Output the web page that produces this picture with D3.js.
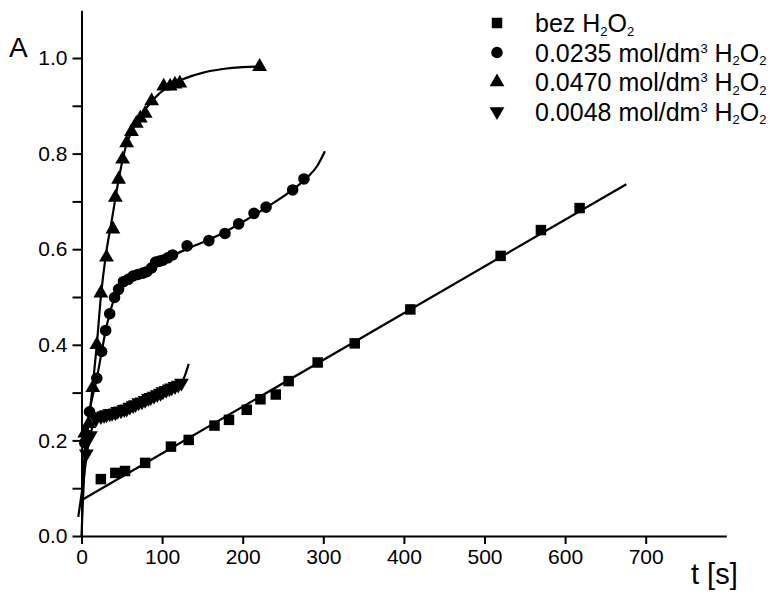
<!DOCTYPE html>
<html>
<head>
<meta charset="utf-8">
<script src="https://cdn.jsdelivr.net/npm/d3@7"></script>
<style>
body { margin: 0; background: #fff; }
svg { font-family: "Liberation Sans", Arial, sans-serif; }
</style>
</head>
<body>
<svg width="778" height="595"></svg>
<script>
// I. Données

// bez H2O2 (carrés)
let tBez = [24, 42, 54, 79, 111, 133, 165, 183, 205, 222, 241, 257, 293, 339, 408, 520, 570, 618];
let aBez = [0.119, 0.132, 0.136, 0.153, 0.187, 0.201, 0.231, 0.243, 0.264, 0.286, 0.296, 0.324, 0.363, 0.403, 0.474, 0.586, 0.640, 0.686];
let tBezFit = [2, 676];
let aBezFit = [0.077, 0.736];

// 0.0235 mol/dm3 (cercles)
let tC = [4, 8, 10, 19, 25, 30, 35, 41, 46, 52, 58, 64, 70, 76, 81, 87, 92, 97, 101, 107, 113, 131, 158, 178, 195, 214, 229, 262, 276];
let aC = [0.195, 0.21, 0.26, 0.33, 0.386, 0.43, 0.465, 0.499, 0.516, 0.532, 0.537, 0.544, 0.547, 0.55, 0.553, 0.561, 0.573, 0.575, 0.577, 0.582, 0.588, 0.607, 0.618, 0.633, 0.653, 0.675, 0.688, 0.724, 0.747];
let tCFit = [0, 3, 6, 10, 19, 25, 30, 35, 41, 47, 55, 70, 90, 110, 140, 170, 200, 230, 260, 280, 292, 302];
let aCFit = [0.06, 0.15, 0.21, 0.26, 0.33, 0.385, 0.43, 0.465, 0.498, 0.517, 0.532, 0.546, 0.564, 0.584, 0.607, 0.629, 0.657, 0.688, 0.722, 0.75, 0.773, 0.805];

// 0.0470 mol/dm3 (triangles)
let tT = [4, 9, 14, 19, 24, 31, 39, 42, 46, 51, 56, 62, 68, 73, 79, 87, 102, 110, 116, 122, 221];
let aT = [0.215, 0.235, 0.31, 0.40, 0.508, 0.583, 0.642, 0.708, 0.746, 0.788, 0.822, 0.846, 0.863, 0.874, 0.884, 0.91, 0.941, 0.941, 0.945, 0.947, 0.982];
let tTFit = [0, 4, 9, 14, 19, 24, 30, 38, 46, 55, 65, 78, 90, 105, 125, 150, 175, 200, 222];
let aTFit = [0.0, 0.15, 0.24, 0.315, 0.40, 0.50, 0.585, 0.665, 0.745, 0.815, 0.855, 0.89, 0.915, 0.937, 0.955, 0.969, 0.977, 0.981, 0.982];

// 0.0048 mol/dm3 (triangles inversés)
let tV = [6, 11, 18, 24, 28, 31, 35, 38, 42, 45, 49, 53, 56, 60, 64, 67, 71, 75, 79, 83, 86, 90, 94, 98, 101, 105, 109, 112, 116, 120, 124];
let aV = [0.172, 0.21, 0.245, 0.250, 0.252, 0.254, 0.256, 0.257, 0.258, 0.261, 0.262, 0.265, 0.266, 0.270, 0.273, 0.275, 0.279, 0.281, 0.284, 0.288, 0.290, 0.293, 0.296, 0.299, 0.302, 0.305, 0.308, 0.310, 0.313, 0.316, 0.320];
let tVFit = [-4, 2, 7, 13, 20, 30, 45, 60, 80, 100, 120, 127, 133];
let aVFit = [0.04, 0.11, 0.175, 0.225, 0.247, 0.254, 0.26, 0.268, 0.285, 0.30, 0.317, 0.33, 0.36];

let xTicks = [0, 100, 200, 300, 400, 500, 600, 700];
let yTicks = [0, 0.1, 0.2, 0.3, 0.4, 0.5, 0.6, 0.7, 0.8, 0.9, 1.0];

let legende = [
    {forme: "carre", texte: "bez", conc: false},
    {forme: "cercle", texte: "0.0235 mol/dm", conc: true},
    {forme: "triangle", texte: "0.0470 mol/dm", conc: true},
    {forme: "inverse", texte: "0.0048 mol/dm", conc: true}
];

// II. Dessin
let svg = d3.select("svg");

let x = d3.scaleLinear().domain([0, 800]).range([81.5, 726.3]);
let y = d3.scaleLinear().domain([0, 1.1]).range([536, 10.2]);

function points(ts, as) {
    return ts.map((t, i) => ({t: t, a: as[i]}));
}

let ligne = d3.line()
    .x(d => x(d.t))
    .y(d => y(d.a))
    .curve(d3.curveMonotoneX);

// axes
svg.append("g")
    .attr("transform", "translate(" + x(0) + ",0)")
    .call(d3.axisLeft(y)
        .tickValues(yTicks)
        .tickSize(9)
        .tickSizeOuter(0)
        .tickPadding(5)
        .tickFormat((d, i) => i % 2 == 0 ? d3.format(".1f")(d) : ""));

svg.append("g")
    .attr("transform", "translate(0," + y(0) + ")")
    .call(d3.axisBottom(x)
        .tickValues(xTicks)
        .tickSize(8)
        .tickSizeOuter(0)
        .tickPadding(5)
        .tickFormat(d3.format("d")));

svg.selectAll(".domain, .tick line")
    .attr("stroke", "#000")
    .attr("stroke-width", 2);
svg.selectAll(".tick text")
    .attr("fill", "#000")
    .style("font-size", "21px");

svg.append("text")
    .attr("x", 9)
    .attr("y", 57)
    .style("font-size", "28px")
    .text("A");

svg.append("text")
    .attr("x", 691)
    .attr("y", 584)
    .style("font-size", "29px")
    .text("t [s]");

// courbes
let courbes = [
    points(tBezFit, aBezFit),
    points(tCFit, aCFit),
    points(tTFit, aTFit),
    points(tVFit, aVFit)
];

svg.append("g").selectAll("path.fit")
    .data(courbes)
    .enter()
    .append("path")
    .attr("class", "fit")
    .attr("d", ligne)
    .attr("fill", "none")
    .attr("stroke", "#000")
    .attr("stroke-width", 2.2);

// symboles
let formes = {
    carre: d3.symbol().type(d3.symbolSquare).size(110)(),
    cercle: d3.symbol().type(d3.symbolCircle).size(105)(),
    triangle: d3.symbol().type(d3.symbolTriangle).size(95)(),
    inverse: d3.symbol().type(d3.symbolTriangle).size(95)()
};

function dessinePoints(ts, as, forme) {
    svg.append("g").selectAll("path")
        .data(points(ts, as))
        .enter()
        .append("path")
        .attr("d", formes[forme])
        .attr("transform", d => "translate(" + x(d.t) + "," + y(d.a) + ")" + (forme == "inverse" ? " rotate(180)" : ""))
        .attr("fill", "#000");
}

dessinePoints(tBez, aBez, "carre");
dessinePoints(tC, aC, "cercle");
dessinePoints(tT, aT, "triangle");
dessinePoints(tV, aV, "inverse");

// légende
let leg = svg.append("g");
legende.forEach(function (d, i) {
    let yl = 23 + i * 29.5;
    leg.append("path")
        .attr("d", formes[d.forme])
        .attr("transform", "translate(497," + yl + ")" + (d.forme == "inverse" ? " rotate(180)" : ""))
        .attr("fill", "#000");
    let txt = leg.append("text")
        .attr("x", 535)
        .attr("y", yl + 9)
        .style("font-size", "25px");
    txt.append("tspan").text(d.texte);
    if (d.conc) {
        txt.append("tspan").attr("dy", -9).style("font-size", "13px").text("3");
        txt.append("tspan").attr("dy", 9).text(" H");
    } else {
        txt.append("tspan").text(" H");
    }
    txt.append("tspan").attr("dy", 3.5).style("font-size", "13px").text("2");
    txt.append("tspan").attr("dy", -3.5).text("O");
    txt.append("tspan").attr("dy", 3.5).style("font-size", "13px").text("2");
});
</script>
</body>
</html>
